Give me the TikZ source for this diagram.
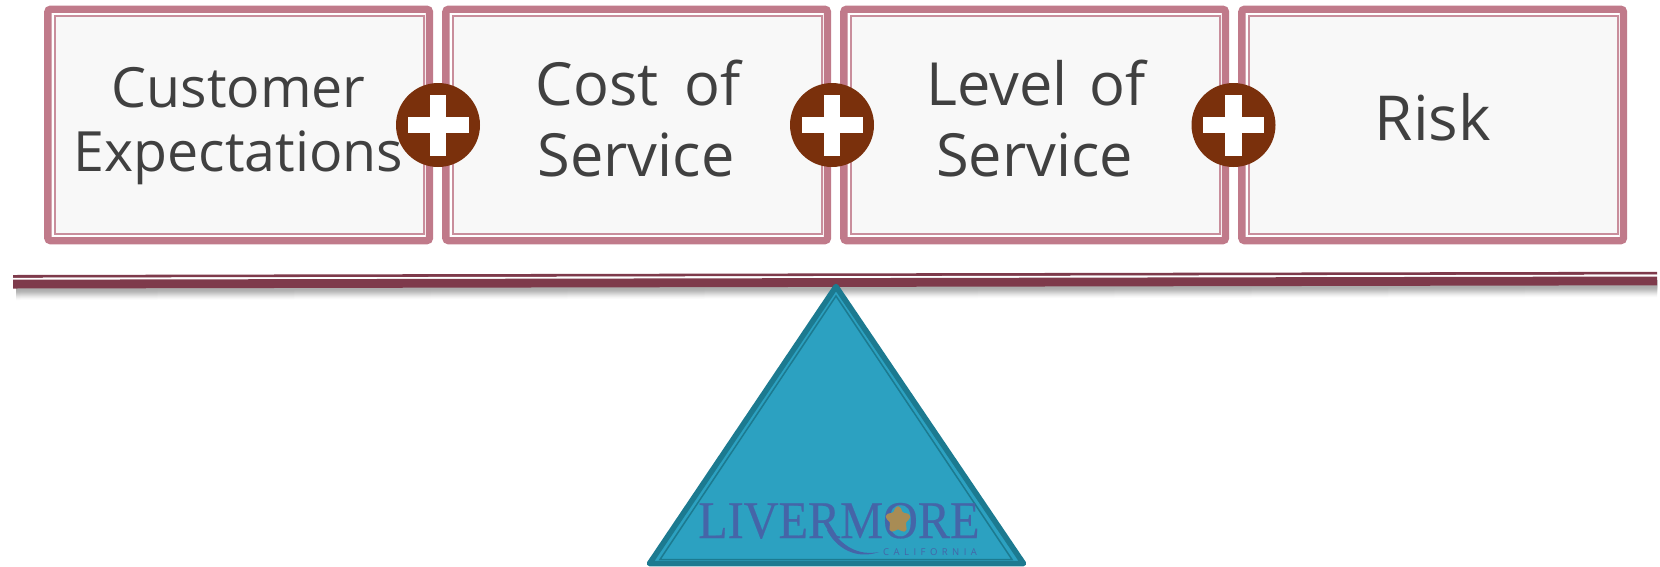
\documentclass[tikz,border=0pt]{standalone}
\usepackage{fontspec}
\setmainfont{Open Sans}
\newfontfamily\logofont[FakeBold=0.4]{Liberation Serif}
\newfontfamily\califfont[LetterSpace=47]{Open Sans}
\definecolor{boxrose}{HTML}{C07A8A}
\definecolor{boxfill}{HTML}{F8F8F8}
\definecolor{plusbrown}{HTML}{7A300C}
\definecolor{beamwine}{HTML}{7E3A4B}
\definecolor{triblue}{HTML}{2CA1C1}
\definecolor{triedge}{HTML}{1C7A90}
\definecolor{logoblue}{HTML}{4565A8}
\definecolor{leafgold}{HTML}{A88C55}
\definecolor{labelgrey}{HTML}{404040}
\tikzset{
  x=1pt,y=-1pt,
  outerbox/.style={draw=boxrose,line width=7.4pt,rounded corners=3pt,fill=white},
  innerbox/.style={draw=boxrose!85!white,line width=2pt,fill=boxfill},
  boxlabel/.style={text=labelgrey,font=\fontsize{59.5}{64}\selectfont,anchor=base,inner sep=0pt},
  smalllabel/.style={boxlabel,font=\fontsize{55.5}{64}\selectfont},
  plusdisc/.style={circle,fill=plusbrown,draw=none,minimum size=84pt,inner sep=0pt},
}
\newcommand{\RoseBox}[1]{%
  \draw[outerbox] (#1+3.8,9.2) rectangle (#1+385.5,240.7);
  \draw[innerbox] (#1+10.7,15.8) rectangle (#1+380,233.7);
}
\newcommand{\PlusMark}[2]{%
  \node[plusdisc] (#2) at (#1,125) {};
  \fill[white] (#1-30.5,116.7) rectangle (#1+30.5,133.3);
  \fill[white] (#1-8.3,94.5) rectangle (#1+8.3,155.5);
}
\begin{document}
\begin{tikzpicture}
\useasboundingbox (0,0) rectangle (1660,566);
\RoseBox{44}
\RoseBox{442}
\RoseBox{840}
\RoseBox{1238}
\node[smalllabel] (l1a) at (238.5,107) {Customer};
\node[smalllabel] (l1b) at (238.5,171) {Expectations};
\node[boxlabel] (l2a) at (638,105) {Cost\hspace{10pt} of};
\node[boxlabel] (l2b) at (636,176) {Service};
\node[boxlabel] (l3a) at (1036,105) {Level\hspace{6pt} of};
\node[boxlabel] (l3b) at (1034.5,176) {Service};
\node[boxlabel,font=\fontsize{62}{64}\selectfont] (l4) at (1433,140) {Risk};
\PlusMark{438}{p1}
\PlusMark{832}{p2}
\PlusMark{1233.5}{p3}
% beam shadow: overlapping strips, palest and deepest first
\foreach \i/\g in {12/2,11/4,10/7,9/10,8/14,7/18,6/22,5/26,4/29,3/31,2/32}{
  \fill[black!\g] (16,283) -- (1657,280) -- (1657,285+\i) -- (16,288+\i) -- cycle;
}
% beam
\fill[beamwine] (13,275) -- (1657,271.8) -- (1657,274.6) -- (13,277.8) -- cycle;
\fill[white] (13,277.8) -- (1657,274.6) -- (1657,276.5) -- (13,279.7) -- cycle;
\fill[beamwine] (13,279.7) -- (1657,276.5) -- (1657,285.3) -- (13,288.5) -- cycle;
% fulcrum
\draw[triedge,fill=triblue,line width=5.5pt,line join=round] (836,286.5) -- (1023.5,563.5) -- (649.5,563.5) -- cycle;
\draw[triedge,line width=1.5pt,line join=miter] (836,296) -- (1012,559.5) -- (660,559.5) -- cycle;
% logo
\node[anchor=base west,inner sep=0pt,text=logoblue,font=\logofont\fontsize{53}{53}\selectfont] (logo) at (698,538) {\scalebox{0.91}[1]{LIVERMORE}};
\fill[leafgold] plot[smooth cycle,domain=0:345,samples=24] ({898+(10.5+2.2*cos(5*\x+90))*cos(\x)},{520+(11.5+2.2*cos(5*\x+90))*sin(\x)});
\fill[logoblue] (827,530) .. controls (836,548) and (856,560) .. (879,552)
  .. controls (858,556) and (842,546) .. (831,529) -- cycle;
\node[anchor=base west,inner sep=0pt,text=logoblue,font=\califfont\fontsize{9.5}{9.5}\selectfont] (calif) at (883,555.5) {CALIFORNIA};
\end{tikzpicture}
\end{document}
